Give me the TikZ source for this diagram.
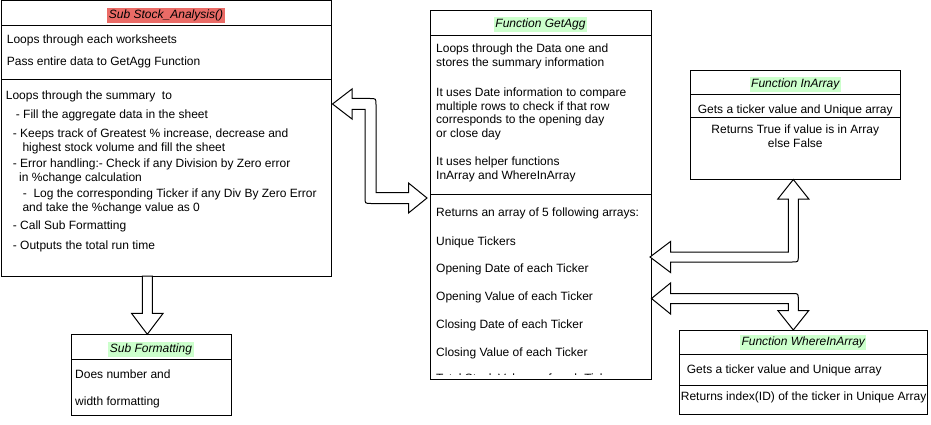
\documentclass[tikz,border=0pt]{standalone}
\usepackage{fontspec}
\setmainfont{Liberation Sans}
\usetikzlibrary{calc}
\definecolor{hlred}{HTML}{EA6B66}
\definecolor{hlgreen}{HTML}{CCFFCC}
\newcommand{\boxfont}{\fontsize{12pt}{14pt}\selectfont}

\begin{document}
\begin{tikzpicture}[
    x=1pt, y=-1pt,
    box/.style={draw, line width=1pt, anchor=north west, inner sep=0pt, outer sep=0pt},
    hdr/.style={anchor=base, inner xsep=1.5pt, inner ysep=0pt, text height=10pt, text depth=5pt, font=\boxfont\itshape},
    txt/.style={anchor=base west, inner sep=0pt, font=\boxfont},
    ctxt/.style={anchor=base, inner sep=0pt, font=\boxfont},
    blockarrow/.style={draw, fill=white, line width=1pt, line join=miter}
]
\useasboundingbox (0,0) rectangle (931,425);

% Boxes
\node[box, minimum width=330pt, minimum height=275pt] (stock) at (1,1) {};
\node[box, minimum width=221pt, minimum height=369pt] (agg) at (430,10.5) {};
\node[box, minimum width=210.5pt, minimum height=109pt] (inarr) at (690,70.5) {};
\node[box, minimum width=247.5pt, minimum height=84pt] (where) at (679.5,330) {};
\node[box, minimum width=160pt, minimum height=80.7pt] (fmt) at (71,334.3) {};

% Compartment lines
\foreach \b/\y in {stock/26, stock/80, agg/35.7, agg/194.3, inarr/95, inarr/117.5, where/354, where/385.7, fmt/359.3}
  \draw[line width=1pt] (\b.west |- 0,\y) -- (\b.east |- 0,\y);

% Headers
\node[hdr, fill=hlred] (stockhdr) at (stock.north |- 0,18.3) {Sub Stock\_Analysis()};
\node[hdr, fill=hlgreen] (agghdr) at (agg.north |- 0,27.3) {Function GetAgg};
\node[hdr, fill=hlgreen] (inarrhdr) at (inarr.north |- 0,87.3) {Function InArray};
\node[hdr, fill=hlgreen] (wherehdr) at (where.north |- 0,345) {Function WhereInArray};
\node[hdr, fill=hlgreen] (fmthdr) at (fmt.north |- 0,352) {Sub Formatting};

% Sub Stock_Analysis text
\foreach \x/\y/\t [count=\i] in {
    6.7/44/{Loops through each worksheets},
    6.7/66/{Pass entire data to GetAgg Function},
    5.7/99.3/{Loops through the summary\ \ to},
    15.7/119/{- Fill the aggregate data in the sheet},
    12.7/137/{- Keeps track of Greatest \% increase, decrease and},
    22.3/151/{highest stock volume and fill the sheet},
    12.7/167/{- Error handling:- Check if any Division by Zero error},
    19/181/{in \%change calculation},
    22.7/197/{-\ \ Log the corresponding Ticker if any Div By Zero Error},
    22.3/211/{and take the \%change value as 0},
    12.7/229/{- Call Sub Formatting},
    12.7/249/{- Outputs the total run time}}
  \node[txt] (stock-\i) at (\x,\y) {\t};

% Function GetAgg text
\foreach \y/\t [count=\i] in {
    53/{Loops through the Data one and},
    67/{stores the summary information},
    96.5/{It uses Date information to compare},
    110.5/{multiple rows to check if that row},
    124/{corresponds to the opening day},
    137.5/{or close day},
    165.5/{It uses helper functions},
    179.5/{InArray and WhereInArray},
    216.7/{Returns an array of 5 following arrays:},
    245/{Unique Tickers},
    272.7/{Opening Date of each Ticker},
    300.7/{Opening Value of each Ticker},
    328.7/{Closing Date of each Ticker},
    356.7/{Closing Value of each Ticker}}
  \node[txt] (agg-\i) at (436,\y) {\t};
\begin{scope}
  \clip (430,360) rectangle (651,374.3);
  \node[txt] (agg-more) at (436,382) {Total Stock Volume of each Ticker};
\end{scope}

% Function InArray text
\node[ctxt] (inarr-1) at (inarr.north |- 0,113.3) {Gets a ticker value and Unique array};
\node[ctxt] (inarr-2) at (inarr.north |- 0,133.3) {Returns True if value is in Array};
\node[ctxt] (inarr-3) at (inarr.north |- 0,147.3) {else False};

% Function WhereInArray text
\node[txt] (where-1) at (686.7,373.3) {Gets a ticker value and Unique array};
\node[txt] (where-2) at (680.7,400) {Returns index(ID) of the ticker in Unique Array};

% Sub Formatting text
\node[txt] (fmt-1) at (75,378.3) {Does number and};
\node[txt] (fmt-2) at (75,405) {width formatting};

% Block arrows
% Stock_Analysis -> Formatting
\coordinate (t1) at (147.3,0 |- fmt.north);
\draw[blockarrow] (t1) -- (163.1,313.3) -- (152.3,313.3) -- (152.3,0 |- stock.south) -- (142.3,0 |- stock.south) -- (142.3,313.3) -- (131.5,313.3) -- cycle;

% Stock_Analysis <-> GetAgg
\coordinate (t2a) at ($(stock.east |- 0,104)+(1.5,0)$);
\coordinate (t2b) at ($(agg.west |- 0,198)+(-3,0)$);
\draw[blockarrow] (t2a) -- (352,89) -- (352,98.5) -- (370,98.5) .. controls (376,98.5) .. (376,104.5) -- (376,192.5) -- (408.5,192.5) -- (408.5,183) -- (t2b) -- (408.5,213) -- (408.5,203.5) -- (371,203.5) .. controls (365,203.5) .. (365,197.5) -- (365,109.5) -- (352,109.5) -- (352,119) -- cycle;

% GetAgg <-> InArray
\coordinate (t3a) at ($(agg.east |- 0,257)+(-1,0)$);
\coordinate (t3b) at (793.3,0 |- inarr.south);
\draw[blockarrow] (t3a) -- (670.5,241.5) -- (670.5,252) -- (788.3,252) -- (788.3,199) -- (777.8,199) -- (t3b) -- (808.8,199) -- (798.3,199) -- (798.3,256) .. controls (798.3,262) .. (792.3,262) -- (670.5,262) -- (670.5,272.5) -- cycle;

% GetAgg <-> WhereInArray
\coordinate (t4a) at ($(agg.east |- 0,298.5)+(0.5,0)$);
\coordinate (t4b) at (793.3,0 |- where.north);
\draw[blockarrow] (t4a) -- (670.5,283) -- (670.5,293.5) -- (792.3,293.5) .. controls (798.3,293.5) .. (798.3,299.5) -- (798.3,310.5) -- (808.8,310.5) -- (t4b) -- (777.8,310.5) -- (788.3,310.5) -- (788.3,303.5) -- (670.5,303.5) -- (670.5,314) -- cycle;

\end{tikzpicture}
\end{document}
